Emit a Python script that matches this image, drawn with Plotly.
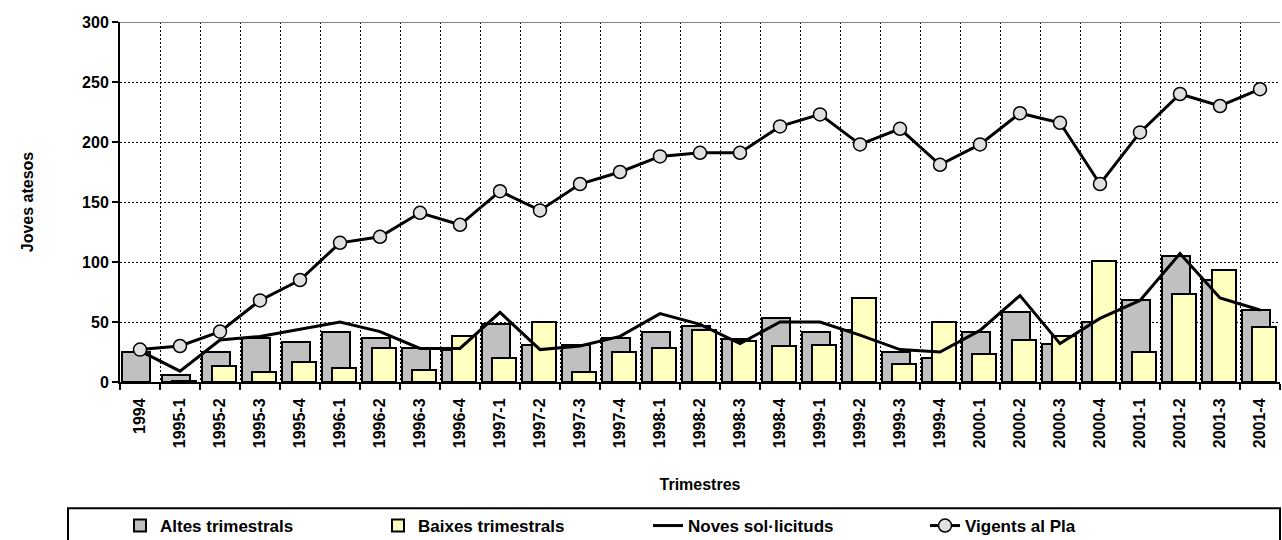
import plotly.graph_objects as go

categories = ["1994",
              "1995-1", "1995-2", "1995-3", "1995-4",
              "1996-1", "1996-2", "1996-3", "1996-4",
              "1997-1", "1997-2", "1997-3", "1997-4",
              "1998-1", "1998-2", "1998-3", "1998-4",
              "1999-1", "1999-2", "1999-3", "1999-4",
              "2000-1", "2000-2", "2000-3", "2000-4",
              "2001-1", "2001-2", "2001-3", "2001-4"]

altes = [25, 6, 25, 37, 33, 42, 37, 28, 27, 48, 31, 31, 37, 42, 47,
         36, 53, 42, 43, 25, 20, 42, 58, 32, 50, 68, 105, 85, 60]
baixes = [None, 1, 13, 8, 17, 12, 28, 10, 38, 20, 50, 8, 25, 28, 43,
          34, 30, 31, 70, 15, 50, 23, 35, 38, 101, 25, 73, 93, 46]
noves = [26, 9, 35, 38, 44, 50, 42, 28, 28, 58, 27, 30, 38, 57, 48,
         32, 50, 50, 39, 27, 25, 43, 72, 32, 53, 68, 107, 70, 60]
vigents = [27, 30, 42, 68, 85, 116, 121, 141, 131, 159, 143, 165, 175, 188, 191,
           191, 213, 223, 198, 211, 181, 198, 224, 216, 165, 208, 240, 230, 244]

FONT = "Liberation Sans, Arial, sans-serif"
xs = list(range(len(categories)))

fig = go.Figure()
fig.add_trace(go.Bar(
    x=xs, y=altes, name="Altes trimestrals",
    marker=dict(color="#c0c0c0", line=dict(color="black", width=2)),
    width=0.7, offset=-0.45, legendwidth=213,
))
fig.add_trace(go.Bar(
    x=xs, y=baixes, name="Baixes trimestrals",
    marker=dict(color="#ffffc0", line=dict(color="black", width=2)),
    width=0.6, offset=-0.2, legendwidth=225,
))
fig.add_trace(go.Scatter(
    x=xs, y=noves, mode="lines", name="Noves sol·licituds",
    line=dict(color="black", width=3), legendwidth=232,
))
fig.add_trace(go.Scatter(
    x=xs, y=vigents, mode="lines+markers", name="Vigents al Pla",
    line=dict(color="black", width=3),
    marker=dict(symbol="circle", size=13, color="#e0e0e0",
                line=dict(color="black", width=1.5)),
    legendwidth=180,
))

fig.update_layout(
    width=1282, height=540,
    margin=dict(l=120, r=2, t=22, b=158),
    paper_bgcolor="white", plot_bgcolor="white",
    barmode="overlay", bargap=0,
    font=dict(family=FONT, size=16, color="black", weight="bold"),
    showlegend=True,
    legend=dict(
        orientation="h", x=0.0, xanchor="left",
        yref="container", y=14 / 540, yanchor="middle",
        bgcolor="rgba(0,0,0,0)", borderwidth=0,
        font=dict(family=FONT, size=17, color="black", weight="bold"),
        traceorder="normal",
    ),
    xaxis=dict(
        range=[-0.5, 28.5],
        tickmode="array", tickvals=xs, ticktext=categories,
        tickangle=-90, ticks="", showgrid=False, ticklabelstandoff=8,
        tickfont=dict(family=FONT, size=16, color="black", weight="bold"),
        showline=True, linecolor="black", linewidth=2,
        minor=dict(tick0=0.5, dtick=1, showgrid=True, griddash="2px,2px",
                   gridcolor="black", gridwidth=1,
                   ticks="outside", ticklen=6, tickcolor="black", tickwidth=2),
        title=dict(text="Trimestres", standoff=32,
                   font=dict(family=FONT, size=16, color="black", weight="bold")),
        zeroline=False,
    ),
    yaxis=dict(
        range=[0, 300], tickmode="linear", tick0=0, dtick=50,
        showgrid=True, griddash="2px,2px", gridcolor="black", gridwidth=1,
        ticks="outside", ticklen=6, tickcolor="black", tickwidth=2,
        tickfont=dict(family=FONT, size=16, color="black", weight="bold"),
        showline=True, linecolor="black", linewidth=2,
        zeroline=False,
        title=dict(text="Joves atesos", standoff=44,
                   font=dict(family=FONT, size=16, color="black", weight="bold")),
    ),
    shapes=[
        dict(type="line", xref="paper", yref="y", x0=0, x1=1, y0=300, y1=300,
             line=dict(color="#808080", width=2)),
        dict(type="rect", xref="paper", yref="paper",
             x0=(68 - 120) / 1160, x1=(1280 - 120) / 1160,
             y0=(381.7 - 560) / 360, y1=(381.7 - 508) / 360,
             line=dict(color="black", width=2), fillcolor="rgba(0,0,0,0)"),
    ],
)

fig.write_html(
    "out.html",
    config={"displayModeBar": False},
    post_script="document.body.style.margin='0';document.body.style.overflow='hidden';",
)
